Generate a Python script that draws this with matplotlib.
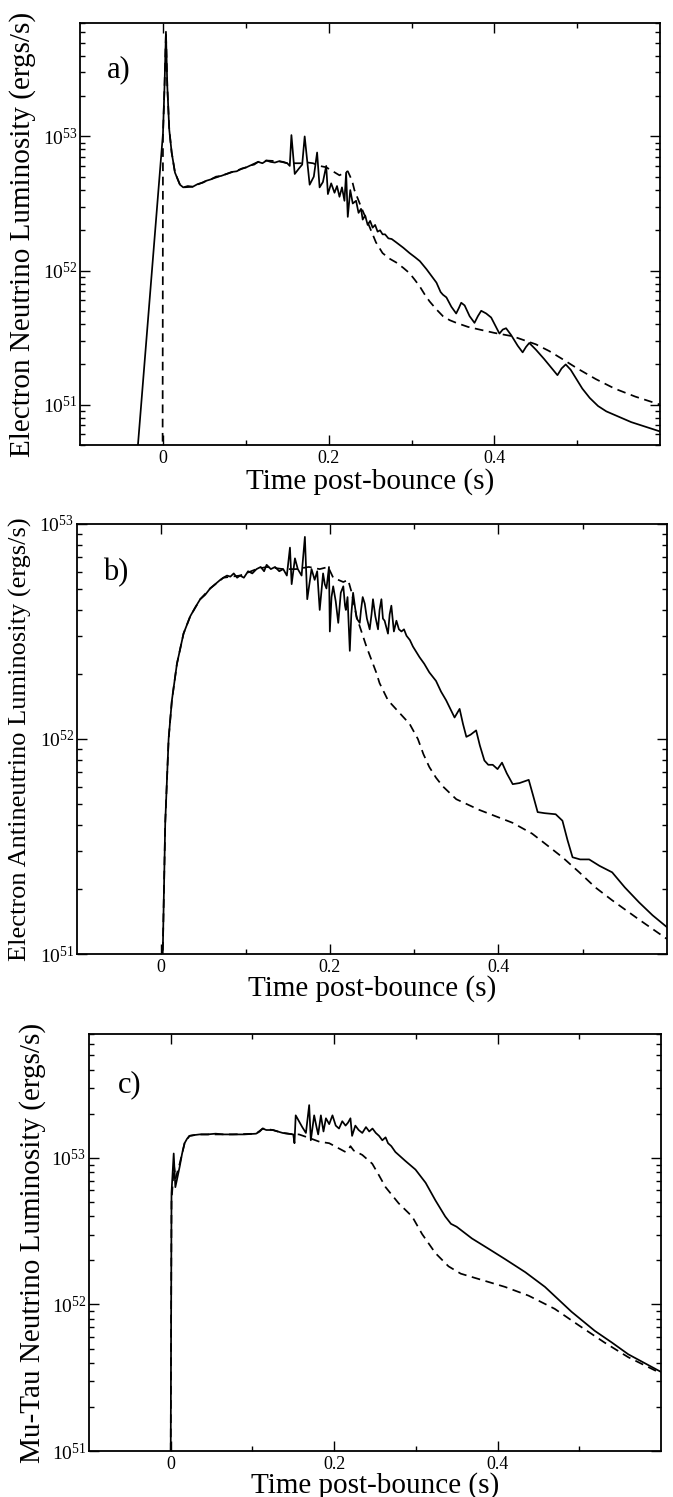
import numpy
import matplotlib
matplotlib.use('Agg')
import matplotlib.pyplot as plt
from matplotlib.ticker import LogLocator, NullFormatter, FixedLocator, FixedFormatter

plt.rcParams['font.family'] = ['Liberation Serif', 'DejaVu Serif']
plt.rcParams['mathtext.fontset'] = 'custom'
plt.rcParams['mathtext.rm'] = 'Liberation Serif'
plt.rcParams['mathtext.it'] = 'Liberation Serif:italic'

# time post-bounce (s) and log10 of luminosity (ergs/s)
# panel a) electron neutrino
a_solid_t = [-0.035, 0.0, 0.002, 0.0036, 0.0052, 0.0076, 0.0105, 0.0145, 0.0205, 0.0245,
             0.030, 0.036, 0.042, 0.048, 0.0526, 0.058, 0.064, 0.070, 0.0767, 0.083,
             0.089, 0.095, 0.1008, 0.106, 0.110, 0.1148, 0.120, 0.125, 0.130, 0.135,
             0.140, 0.145, 0.150, 0.153, 0.155, 0.159, 0.164, 0.168, 0.171, 0.177,
             0.182, 0.186, 0.189, 0.193, 0.197, 0.199, 0.203, 0.207, 0.210, 0.213,
             0.216, 0.219, 0.221, 0.223, 0.226, 0.229, 0.233, 0.236, 0.239, 0.241,
             0.244, 0.247, 0.250, 0.253, 0.256, 0.259, 0.262, 0.265, 0.268, 0.272,
             0.276, 0.2815, 0.290, 0.2976, 0.304, 0.310, 0.318, 0.324, 0.330, 0.335,
             0.3378, 0.342, 0.348, 0.3538, 0.357, 0.3599, 0.364, 0.370, 0.3759, 0.380,
             0.384, 0.390, 0.396, 0.401, 0.406, 0.410, 0.414, 0.420, 0.428, 0.434,
             0.438, 0.442, 0.450, 0.460, 0.468, 0.476, 0.481, 0.486, 0.492, 0.500,
             0.506, 0.515, 0.525, 0.535, 0.550, 0.565, 0.580, 0.600]
a_solid_logL = [50.33, 53.02, 53.40, 53.78, 53.38, 53.05, 52.88, 52.73, 52.64, 52.62,
                52.63, 52.625, 52.645, 52.655, 52.67, 52.68, 52.70, 52.705, 52.72, 52.735,
                52.74, 52.76, 52.77, 52.785, 52.79, 52.81, 52.80, 52.82, 52.81, 52.805,
                52.815, 52.81, 52.80, 52.78, 53.01, 52.72, 52.76, 52.79, 53.00, 52.64,
                52.70, 52.88, 52.62, 52.66, 52.78, 52.57, 52.65, 52.58, 52.63, 52.55,
                52.62, 52.52, 52.73, 52.40, 52.60, 52.50, 52.52, 52.43, 52.46, 52.38,
                52.41, 52.34, 52.37, 52.32, 52.34, 52.29, 52.30, 52.27, 52.27, 52.24,
                52.235, 52.21, 52.17, 52.13, 52.10, 52.07, 52.01, 51.96, 51.91, 51.84,
                51.82, 51.80, 51.73, 51.68, 51.72, 51.76, 51.74, 51.66, 51.61, 51.66,
                51.70, 51.68, 51.65, 51.59, 51.53, 51.56, 51.57, 51.52, 51.44, 51.39,
                51.43, 51.46, 51.41, 51.34, 51.28, 51.22, 51.27, 51.30, 51.26, 51.18,
                51.12, 51.05, 50.99, 50.95, 50.91, 50.87, 50.84, 50.80]
a_dash_t = [-0.0005, 0.0, 0.002, 0.0036, 0.0052, 0.0076, 0.0105, 0.0145, 0.0205, 0.0245,
            0.036, 0.0526, 0.0767, 0.1008, 0.1148, 0.125, 0.140, 0.150, 0.155, 0.161,
            0.168, 0.175, 0.181, 0.189, 0.197, 0.205, 0.213, 0.219, 0.223, 0.226,
            0.229, 0.231, 0.240, 0.249, 0.257, 0.265, 0.273, 0.2815, 0.290, 0.2976,
            0.304, 0.310, 0.316, 0.3217, 0.330, 0.3378, 0.346, 0.354, 0.368, 0.382,
            0.400, 0.422, 0.436, 0.450, 0.466, 0.482, 0.500, 0.5225, 0.545, 0.570, 0.600]
a_dash_logL = [50.3, 53.0, 53.40, 53.78, 53.38, 53.05, 52.88, 52.73, 52.64, 52.62,
               52.625, 52.67, 52.72, 52.77, 52.81, 52.82, 52.815, 52.80, 52.80, 52.80,
               52.80, 52.805, 52.80, 52.78, 52.77, 52.74, 52.71, 52.73, 52.74, 52.70,
               52.65, 52.60, 52.46, 52.33, 52.21, 52.13, 52.09, 52.06, 52.02, 51.98,
               51.93, 51.88, 51.82, 51.77, 51.71, 51.66, 51.63, 51.61, 51.58, 51.56,
               51.535, 51.51, 51.48, 51.45, 51.40, 51.34, 51.27, 51.19, 51.12, 51.06, 51.00]

# panel b) electron antineutrino
b_solid_t = [0.0015, 0.0047, 0.0087, 0.0126, 0.0186, 0.0264, 0.0343, 0.040, 0.0462, 0.052,
             0.058, 0.064, 0.070, 0.0737, 0.078, 0.082, 0.086, 0.090, 0.0935, 0.098,
             0.103, 0.108, 0.113, 0.118, 0.122, 0.125, 0.130, 0.135, 0.140, 0.1447,
             0.149, 0.1527, 0.1547, 0.1586, 0.162, 0.1665, 0.1704, 0.1732, 0.1783, 0.182,
             0.185, 0.188, 0.192, 0.194, 0.196, 0.199, 0.200, 0.202, 0.204, 0.207,
             0.210, 0.213, 0.216, 0.218, 0.219, 0.221, 0.2237, 0.2255, 0.2276, 0.230,
             0.232, 0.2355, 0.237, 0.239, 0.2414, 0.244, 0.2473, 0.2495, 0.2512, 0.254,
             0.2572, 0.259, 0.2612, 0.263, 0.265, 0.269, 0.271, 0.273, 0.276, 0.279,
             0.282, 0.285, 0.288, 0.291, 0.295, 0.2986, 0.3065, 0.312, 0.318, 0.322,
             0.326, 0.332, 0.338, 0.343, 0.348, 0.351, 0.354, 0.358, 0.362, 0.367,
             0.3736, 0.378, 0.3834, 0.388, 0.3933, 0.399, 0.4043, 0.410, 0.417, 0.425,
             0.436, 0.441, 0.4466, 0.455, 0.468, 0.476, 0.482, 0.488, 0.497, 0.5077,
             0.520, 0.535, 0.550, 0.567, 0.583, 0.600]
b_solid_logL = [50.95, 51.61, 52.00, 52.18, 52.35, 52.49, 52.57, 52.61, 52.65, 52.67,
                52.70, 52.72, 52.74, 52.75, 52.76, 52.755, 52.77, 52.75, 52.76, 52.75,
                52.78, 52.77, 52.79, 52.80, 52.78, 52.81, 52.79, 52.80, 52.78, 52.79,
                52.76, 52.89, 52.72, 52.84, 52.79, 52.76, 52.94, 52.65, 52.79, 52.74,
                52.78, 52.60, 52.77, 52.72, 52.70, 52.80, 52.50, 52.66, 52.71, 52.64,
                52.54, 52.68, 52.71, 52.62, 52.60, 52.66, 52.41, 52.58, 52.68, 52.61,
                52.56, 52.54, 52.60, 52.66, 52.63, 52.56, 52.51, 52.58, 52.65, 52.57,
                52.51, 52.60, 52.65, 52.56, 52.55, 52.49, 52.58, 52.62, 52.50, 52.55,
                52.51, 52.50, 52.51, 52.48, 52.46, 52.43, 52.38, 52.35, 52.31, 52.29,
                52.27, 52.22, 52.18, 52.14, 52.10, 52.12, 52.14, 52.07, 52.01, 52.02,
                52.04, 51.97, 51.90, 51.88, 51.88, 51.86, 51.89, 51.84, 51.79, 51.795,
                51.81, 51.74, 51.66, 51.655, 51.65, 51.62, 51.53, 51.45, 51.44, 51.44,
                51.41, 51.38, 51.31, 51.24, 51.18, 51.125]
b_dash_t = [0.0015, 0.0047, 0.0087, 0.0126, 0.0186, 0.0264, 0.0343, 0.0462, 0.058, 0.0737,
            0.0935, 0.113, 0.125, 0.1447, 0.160, 0.175, 0.188, 0.198, 0.204, 0.210,
            0.216, 0.2217, 0.226, 0.2316, 0.2434, 0.255, 0.259, 0.269, 0.283, 0.2947,
            0.3045, 0.311, 0.318, 0.326, 0.334, 0.350, 0.3775, 0.417, 0.440, 0.4565,
            0.476, 0.496, 0.515, 0.535, 0.567, 0.600]
b_dash_logL = [50.95, 51.61, 52.00, 52.18, 52.35, 52.49, 52.57, 52.65, 52.70, 52.75,
               52.76, 52.79, 52.80, 52.79, 52.79, 52.80, 52.79, 52.80, 52.75, 52.74,
               52.73, 52.74, 52.68, 52.57, 52.43, 52.31, 52.26, 52.18, 52.12, 52.07,
               52.00, 51.93, 51.87, 51.82, 51.78, 51.72, 51.67, 51.61, 51.56, 51.51,
               51.45, 51.38, 51.31, 51.25, 51.16, 51.07]

# panel c) mu-tau neutrino
c_solid_t = [0.0, 0.001, 0.0037, 0.0057, 0.008, 0.011, 0.014, 0.017, 0.020, 0.023,
             0.028, 0.0354, 0.045, 0.055, 0.065, 0.076, 0.090, 0.1045, 0.109, 0.1126,
             0.117, 0.125, 0.131, 0.137, 0.144, 0.150, 0.1515, 0.153, 0.157, 0.161,
             0.1655, 0.1695, 0.1715, 0.1756, 0.1785, 0.1805, 0.1838, 0.187, 0.190, 0.194,
             0.198, 0.202, 0.206, 0.210, 0.214, 0.217, 0.220, 0.222, 0.226, 0.230,
             0.2345, 0.239, 0.243, 0.247, 0.251, 0.255, 0.259, 0.263, 0.266, 0.270,
             0.275, 0.281, 0.287, 0.2996, 0.312, 0.324, 0.336, 0.343, 0.350, 0.3687,
             0.389, 0.409, 0.434, 0.458, 0.4906, 0.519, 0.540, 0.560, 0.580, 0.600]
c_solid_logL = [50.9, 52.76, 53.03, 52.80, 52.86, 52.94, 53.03, 53.10, 53.13, 53.15,
                53.155, 53.16, 53.16, 53.165, 53.16, 53.16, 53.16, 53.165, 53.18, 53.20,
                53.19, 53.19, 53.18, 53.17, 53.165, 53.16, 53.10, 53.29, 53.25, 53.21,
                53.17, 53.36, 53.12, 53.29, 53.21, 53.16, 53.29, 53.18, 53.27, 53.23,
                53.29, 53.22, 53.20, 53.25, 53.22, 53.24, 53.27, 53.15, 53.22, 53.19,
                53.17, 53.21, 53.18, 53.20, 53.17, 53.15, 53.12, 53.14, 53.10, 53.08,
                53.04, 53.01, 52.98, 52.92, 52.83, 52.71, 52.60, 52.55, 52.53, 52.45,
                52.38, 52.31, 52.22, 52.12, 51.95, 51.82, 51.74, 51.66, 51.60, 51.54]
c_dash_t = [0.0, 0.001, 0.004, 0.006, 0.011, 0.017, 0.023, 0.035, 0.076, 0.1045,
            0.1126, 0.125, 0.137, 0.150, 0.157, 0.170, 0.182, 0.194, 0.204, 0.214,
            0.218, 0.220, 0.224, 0.2345, 0.2467, 0.255, 0.263, 0.279, 0.2955, 0.3077,
            0.324, 0.340, 0.355, 0.373, 0.409, 0.438, 0.470, 0.4988, 0.531, 0.560, 0.600]
c_dash_logL = [50.9, 52.70, 52.95, 52.86, 52.96, 53.10, 53.15, 53.16, 53.16, 53.165,
               53.20, 53.19, 53.17, 53.16, 53.16, 53.135, 53.11, 53.10, 53.07, 53.04,
               53.06, 53.08, 53.05, 53.02, 52.96, 52.88, 52.80, 52.69, 52.60, 52.48,
               52.35, 52.26, 52.21, 52.18, 52.12, 52.06, 51.97, 51.86, 51.74, 51.64, 51.53]

x_ticks = [0.0, 0.2, 0.4]
x_ticklabels = ['0', '0.2', '0.4']
x_minor = [0.1, 0.3, 0.5]


def draw_panel(fig, rect, ylim, ylabel, ylab_size, letter, curves, ylab_x, xlab_y):
    ax = fig.add_axes(rect)
    for t, logL, style in curves:
        L = 10.0 ** numpy.array(logL)
        if style == 'dash':
            ax.plot(t, L, color='black', lw=1.25, ls=(0, (5, 3.2)))
        else:
            ax.plot(t, L, color='black', lw=1.25)
    ax.set_yscale('log')
    ax.set_xlim(-0.1, 0.6)
    ax.set_ylim(*ylim)
    ax.yaxis.set_major_locator(LogLocator(base=10, numticks=10))
    ax.yaxis.set_minor_locator(LogLocator(base=10, subs=numpy.arange(2, 10), numticks=20))
    ax.yaxis.set_minor_formatter(NullFormatter())
    ax.xaxis.set_major_locator(FixedLocator(x_ticks))
    ax.xaxis.set_major_formatter(FixedFormatter(x_ticklabels))
    ax.xaxis.set_minor_locator(FixedLocator(x_minor))
    ax.tick_params(which='both', direction='in', top=True, right=True, width=1.0)
    ax.tick_params(which='major', length=7)
    ax.tick_params(which='minor', length=3.5)
    ax.tick_params(axis='y', which='major', labelsize=14, pad=2)
    ax.tick_params(axis='x', which='major', labelsize=13, pad=3.5)
    for s in ax.spines.values():
        s.set_linewidth(1.3)
    ax.set_ylabel(ylabel, fontsize=ylab_size, va='center')
    ax.yaxis.set_label_coords(ylab_x, 0.5)
    ax.set_xlabel('Time post-bounce (s)', fontsize=21, va='center')
    ax.xaxis.set_label_coords(0.5, xlab_y)
    ax.text(letter[1], letter[2], letter[0], transform=ax.transAxes,
            fontsize=22, va='center', ha='left')
    return ax


if __name__ == '__main__':
    fig = plt.figure(figsize=(6.73, 14.97), dpi=100)

    draw_panel(fig, [0.119, 0.7027, 0.862, 0.2819], (5e50, 7e53),
               'Electron Neutrino Luminosity (ergs/s)', 21, ('a)', 0.047, 0.89),
               [(a_solid_t, a_solid_logL, 'solid'), (a_dash_t, a_dash_logL, 'dash')],
               -0.10, -0.087)
    draw_panel(fig, [0.1144, 0.3627, 0.8766, 0.2873], (1e51, 1e53),
               'Electron Antineutrino Luminosity (ergs/s)', 19, ('b)', 0.044, 0.886),
               [(b_solid_t, b_solid_logL, 'solid'), (b_dash_t, b_dash_logL, 'dash')],
               -0.095, -0.08)
    draw_panel(fig, [0.1322, 0.0307, 0.8499, 0.2786], (1e51, 7e53),
               'Mu-Tau Neutrino Luminosity (ergs/s)', 21, ('c)', 0.051, 0.878),
               [(c_solid_t, c_solid_logL, 'solid'), (c_dash_t, c_dash_logL, 'dash')],
               -0.098, -0.0815)

    fig.savefig('out.png', dpi=100)
